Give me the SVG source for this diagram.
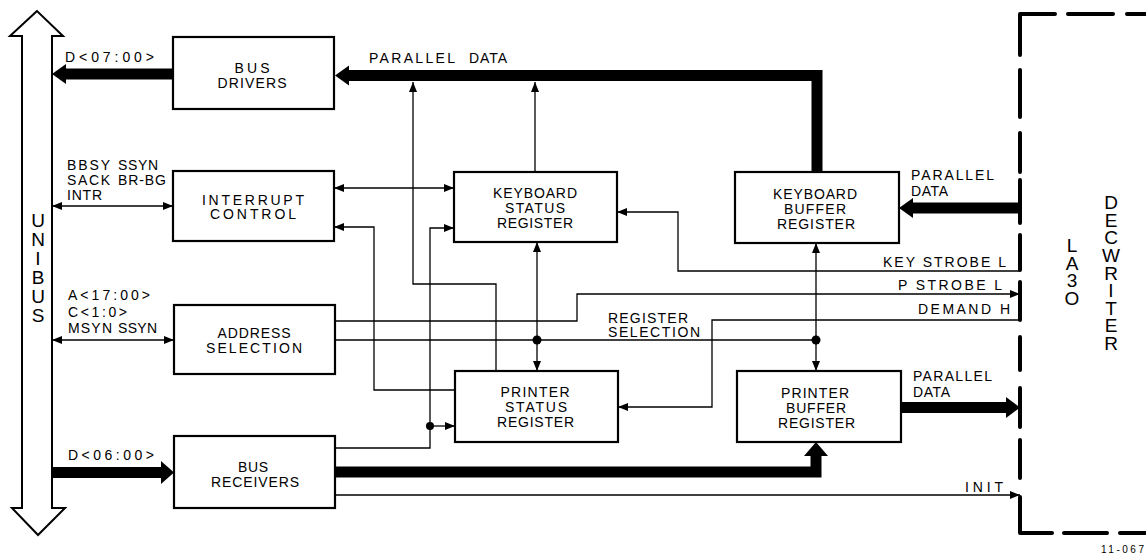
<svg xmlns="http://www.w3.org/2000/svg" width="1146" height="557" viewBox="0 0 1146 557">
<style>
  text { font-family: "Liberation Sans", Arial, sans-serif; fill: #000; }
  .t { font-size: 14px; }
  .c { font-size: 14px; text-anchor: middle; }
  .e { font-size: 14px; text-anchor: end; }
  .vt { font-size: 19px; writing-mode: vertical-rl; text-orientation: upright; }
  .box { fill: #fff; stroke: #000; stroke-width: 2.2; }
  .thin { fill: none; stroke: #000; stroke-width: 1.3; }
  .thk { fill: none; stroke: #000; stroke-width: 11; stroke-linejoin: miter; }
  .head { fill: #000; stroke: none; }
  .dash { fill: none; stroke: #000; stroke-width: 4; stroke-linecap: round; stroke-linejoin: round; }
</style>
<defs>
  <marker id="ah" viewBox="0 0 10 8" refX="10" refY="4" markerWidth="10" markerHeight="8" markerUnits="userSpaceOnUse" orient="auto-start-reverse">
    <path d="M0,0 L10,4 L0,8 z" fill="#000"/>
  </marker>
</defs>
<rect width="1146" height="557" fill="#fff"/>

<g id="connectors">
  <path class="thk" d="M817,172 V75.5 H348"/>
  <polygon class="head" points="335,75.5 349,65.5 349,85.5"/>
  <path class="thk" d="M173,74 H64"/>
  <polygon class="head" points="52,74 66,64 66,84"/>
  <path class="thk" d="M52,472.5 H162"/>
  <polygon class="head" points="174,472.5 161,461 161,484"/>
  <path class="thk" d="M335,472 H816 V455"/>
  <polygon class="head" points="816,442 804,456 828,456"/>
  <path class="thk" d="M1020,208 H912"/>
  <polygon class="head" points="899,208 913,198 913,218"/>
  <path class="thk" d="M901,407.5 H1007"/>
  <polygon class="head" points="1020,407.5 1006,397 1006,418"/>

  <path class="thin" d="M52,206 H173" marker-start="url(#ah)" marker-end="url(#ah)"/>
  <path class="thin" d="M52,340 H174" marker-start="url(#ah)" marker-end="url(#ah)"/>
  <path class="thin" d="M334,188 H454" marker-start="url(#ah)" marker-end="url(#ah)"/>
  <path class="thin" d="M496,371 V284 H413 V82" marker-end="url(#ah)"/>
  <path class="thin" d="M535,172 V82" marker-end="url(#ah)"/>
  <path class="thin" d="M455,390 H374 V227 H334" marker-end="url(#ah)"/>
  <path class="thin" d="M335,448 H430 V228 H454" marker-end="url(#ah)"/>
  <path class="thin" d="M430,426 H455" marker-end="url(#ah)"/>
  <circle cx="430" cy="426" r="4"/>
  <path class="thin" d="M335,340 H816"/>
  <path class="thin" d="M537,340 V242" marker-end="url(#ah)"/>
  <path class="thin" d="M537,340 V371" marker-end="url(#ah)"/>
  <path class="thin" d="M816,340 V243" marker-end="url(#ah)"/>
  <path class="thin" d="M816,340 V371" marker-end="url(#ah)"/>
  <circle cx="537" cy="340" r="4.5"/>
  <circle cx="816" cy="340" r="4.5"/>
  <path class="thin" d="M335,321 H577 V294 H1020" marker-end="url(#ah)"/>
  <path class="thin" d="M1020,271 H678 V212 H617" marker-end="url(#ah)"/>
  <path class="thin" d="M1020,320 H712 V407 H618" marker-end="url(#ah)"/>
  <path class="thin" d="M335,495 H1020" marker-end="url(#ah)"/>

  <text class="t" x="65" y="62" textLength="89">D&lt;07:00&gt;</text>
  <text class="t" x="67" y="170" textLength="43">BBSY</text>
  <text class="t" x="118" y="170" textLength="40">SSYN</text>
  <text class="t" x="67" y="185" textLength="43">SACK</text>
  <text class="t" x="118" y="185" textLength="48">BR-BG</text>
  <text class="t" x="67" y="200" textLength="35">INTR</text>
  <text class="t" x="68" y="300" textLength="82">A&lt;17:00&gt;</text>
  <text class="t" x="68" y="317" textLength="59">C&lt;1:0&gt;</text>
  <text class="t" x="68" y="333" textLength="44">MSYN</text>
  <text class="t" x="118" y="333" textLength="39">SSYN</text>
  <text class="t" x="68" y="460" textLength="86">D&lt;06:00&gt;</text>
  <text class="t" x="369" y="63" textLength="86">PARALLEL</text>
  <text class="t" x="469" y="63" textLength="38">DATA</text>
  <text class="t" x="911" y="180" textLength="83">PARALLEL</text>
  <text class="t" x="911" y="196" textLength="37">DATA</text>
  <text class="e" x="1006" y="267" textLength="123">KEY STROBE L</text>
  <text class="e" x="1002" y="290" textLength="104">P STROBE L</text>
  <text class="e" x="1010" y="314" textLength="92">DEMAND H</text>
  <text class="t" x="608" y="323" textLength="80">REGISTER</text>
  <text class="t" x="608" y="337" textLength="92">SELECTION</text>
  <text class="t" x="913" y="381" textLength="79">PARALLEL</text>
  <text class="t" x="913" y="397" textLength="37">DATA</text>
  <text class="e" x="1003" y="492" textLength="38">INIT</text>
</g>

<g id="unibus">
  <polygon points="37,11 10,36 22,36 22,508 12,508 38,535 65,508 52,508 52,36 63,36" fill="#fff" stroke="#000" stroke-width="2"/>
  <text class="vt" x="38" y="210" textLength="116">UNIBUS</text>
</g>

<g id="bus-drivers">
  <rect class="box" x="173" y="37" width="161" height="72"/>
  <text class="c" x="252" y="73" textLength="35">BUS</text>
  <text class="c" x="252" y="88" textLength="69">DRIVERS</text>
</g>

<g id="interrupt-control">
  <rect class="box" x="173" y="171" width="161" height="70"/>
  <text class="c" x="253" y="205" textLength="102">INTERRUPT</text>
  <text class="c" x="253" y="219" textLength="86">CONTROL</text>
</g>

<g id="address-selection">
  <rect class="box" x="174" y="305" width="161" height="69"/>
  <text class="c" x="254" y="338" textLength="73">ADDRESS</text>
  <text class="c" x="254" y="353" textLength="96">SELECTION</text>
</g>

<g id="bus-receivers">
  <rect class="box" x="174" y="436" width="161" height="72"/>
  <text class="c" x="253" y="472" textLength="30">BUS</text>
  <text class="c" x="255" y="487" textLength="88">RECEIVERS</text>
</g>

<g id="keyboard-status-register">
  <rect class="box" x="454" y="172" width="163" height="70"/>
  <text class="c" x="535" y="198" textLength="84">KEYBOARD</text>
  <text class="c" x="535" y="213" textLength="60">STATUS</text>
  <text class="c" x="535" y="228" textLength="76">REGISTER</text>
</g>

<g id="printer-status-register">
  <rect class="box" x="455" y="371" width="163" height="71"/>
  <text class="c" x="535" y="397" textLength="69">PRINTER</text>
  <text class="c" x="536" y="412" textLength="62">STATUS</text>
  <text class="c" x="535.5" y="427" textLength="77">REGISTER</text>
</g>

<g id="keyboard-buffer-register">
  <rect class="box" x="735" y="172" width="164" height="71"/>
  <text class="c" x="815" y="199" textLength="84">KEYBOARD</text>
  <text class="c" x="815" y="214" textLength="62">BUFFER</text>
  <text class="c" x="816" y="229" textLength="78">REGISTER</text>
</g>

<g id="printer-buffer-register">
  <rect class="box" x="737" y="371" width="164" height="71"/>
  <text class="c" x="815" y="398" textLength="68">PRINTER</text>
  <text class="c" x="816" y="413" textLength="60">BUFFER</text>
  <text class="c" x="816.5" y="428" textLength="77">REGISTER</text>
</g>

<g id="la30-decwriter">
  <path class="dash" d="M1020,55 V14 H1055 M1068,14 H1113 M1127,14 H1150
    M1020,70 V117 M1020,133 V172 M1020,180 V223 M1020,235 V270 M1020,282 V320
    M1020,337 V370 M1020,388 V427 M1020,440 V478 M1020,497 V533 H1052
    M1064,533 H1107 M1120,533 H1150"/>
  <text class="vt" x="1072" y="235" textLength="74">LA3O</text>
  <text class="vt" x="1111" y="192" textLength="162">DECWRITER</text>
</g>

<text class="t" x="1101" y="553" style="font-size:10px" textLength="43">11-067</text>
</svg>
